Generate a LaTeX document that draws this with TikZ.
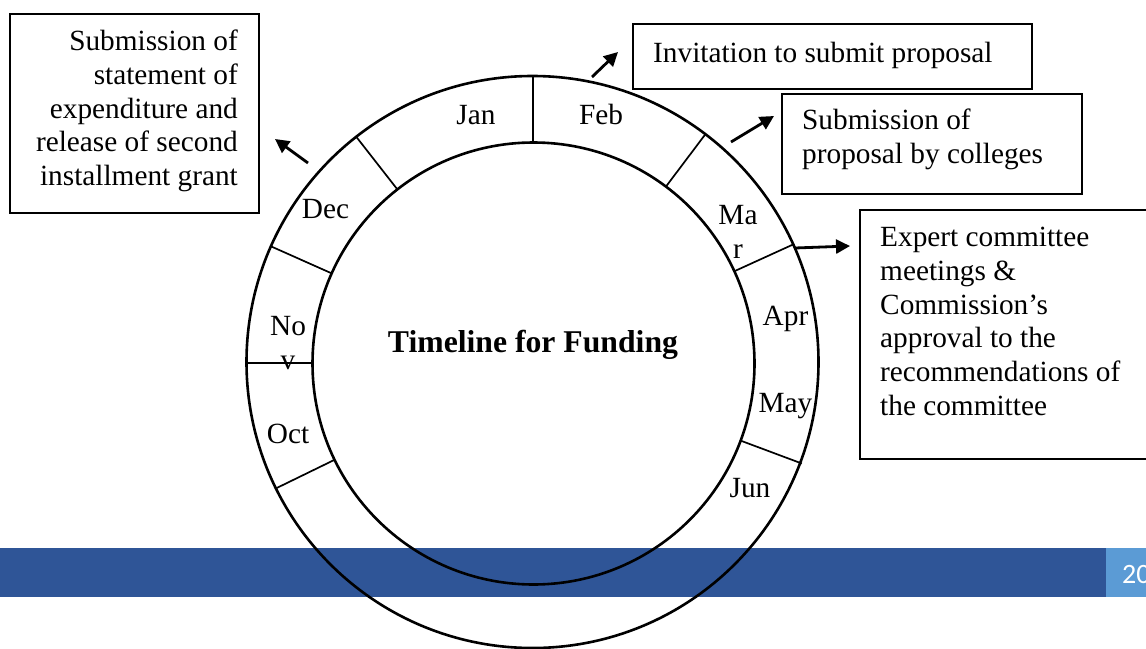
\documentclass[tikz,border=0pt]{standalone}
\usepackage{fontspec}
\setmainfont{Liberation Serif}
\newfontfamily\numfont{Carlito}
\usetikzlibrary{arrows.meta,calc}
\definecolor{banddark}{RGB}{47,85,151}
\definecolor{bandlight}{RGB}{91,155,213}
\begin{document}
\begin{tikzpicture}[x=1pt,y=-1pt,
  boxframe/.style={draw=black, line width=1.8pt, anchor=north west, inner sep=0pt},
  boxtext/.style={inner sep=0pt, font=\fontsize{29.3}{33.7}\selectfont},
  month/.style={inner sep=0pt, anchor=base, font=\fontsize{29.3}{34}\selectfont},
  month2/.style={inner sep=0pt, anchor=north, align=center, font=\fontsize{29.3}{34}\selectfont},
  ring/.style={line width=2.6pt},
  divider/.style={line width=1.7pt},
  pointer/.style={line width=2.8pt, -{Triangle[length=14pt,width=14pt]}},
]
\useasboundingbox (0,0) rectangle (1146,648);
% footer band
\fill[banddark] (0,548) rectangle (1106,597);
\fill[bandlight] (1106,548) rectangle (1146,597);
\node[inner sep=0pt, anchor=base west, text=white, font=\numfont\fontsize{28}{30}\selectfont] (page) at (1122,583) {20};
% rings
\coordinate (c) at (533,363);
\draw[ring] (532.5,362) circle[radius=286pt];
\draw[ring] (533.5,363.5) circle[radius=221pt];
\foreach \a in {90,53,24.5,-20.5,-154,180,156,128}
  \draw[divider] ($(c)+(\a:221pt)$) -- ($(c)+(\a:287pt)$);
% month labels
\node[month] (jan) at (476,124) {Jan};
\node[month] (feb) at (601,124) {Feb};
\node[month2] (mar) at (738,205.6) {Ma\\r};
\node[month] (apr) at (785.5,325) {Apr};
\node[month] (may) at (785.5,412) {May};
\node[month] (jun) at (750,497) {Jun};
\node[month] (oct) at (288,443) {Oct};
\node[month2] (nov) at (288,316.6) {No\\v};
\node[month] (dec) at (325.5,218) {Dec};
\node[inner sep=0pt, anchor=base, font=\bfseries\fontsize{31.7}{34}\selectfont] (title) at (533,352) {Timeline for Funding};
% boxes
\node[boxframe, minimum width=249pt, minimum height=199pt] (decbox) at (9,13) {};
\node[boxtext, anchor=north east, align=right] (dectext) at (238,30)
  {Submission of\\statement of\\expenditure and\\release of second\\installment grant};
\node[boxframe, minimum width=399pt, minimum height=65pt] (febbox) at (632,23) {};
\node[boxtext, anchor=north west, align=left] (febtext) at (653,42) {Invitation to submit proposal};
\node[boxframe, minimum width=300pt, minimum height=100pt] (marbox) at (781,93) {};
\node[boxtext, anchor=north west, align=left] (martext) at (802,109) {Submission of\\proposal by colleges};
\node[boxframe, minimum width=300pt, minimum height=249pt] (aprbox) at (859,209) {};
\node[boxtext, anchor=north west, align=left] (aprtext) at (880,227)
  {Expert committee\\meetings \&\\Commission’s\\approval to the\\recommendations of\\the committee};
% pointers
\coordinate (decT) at (308,163); \coordinate (decH) at (275,139);
\coordinate (febT) at (592,77);  \coordinate (febH) at (618,52);
\coordinate (marT) at (731,142); \coordinate (marH) at (774,116);
\coordinate (aprT) at (795,248); \coordinate (aprH) at (850,246);
\draw[pointer] (decT) -- (decH);
\draw[pointer] (febT) -- (febH);
\draw[pointer] (marT) -- (marH);
\draw[pointer] (aprT) -- (aprH);
\end{tikzpicture}
\end{document}
